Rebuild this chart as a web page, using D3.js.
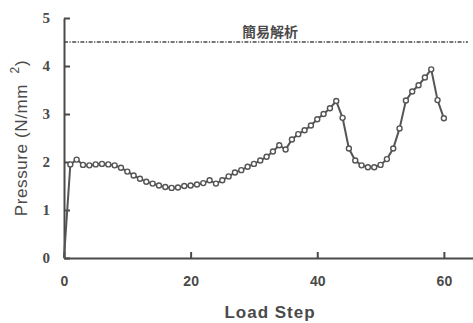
<!DOCTYPE html>
<html>
<head>
<meta charset="utf-8">
<script src="https://cdn.jsdelivr.net/npm/d3@7"></script>
<style>
    body { margin: 0; background: #fff; }
    svg { display: block; }
</style>
</head>
<body>
<div id="chart"></div>
<script>
// load steps 0..60 and measured pressure (N/mm2)
var steps = d3.range(0, 61);
var pressure = [
    0, 1.95, 2.05, 1.94, 1.93, 1.95, 1.96, 1.95, 1.93, 1.88,
    1.80, 1.72, 1.65, 1.59, 1.55, 1.51, 1.48, 1.46, 1.47, 1.50,
    1.51, 1.53, 1.56, 1.62, 1.55, 1.62, 1.70, 1.78, 1.83, 1.90,
    1.96, 2.03, 2.11, 2.22, 2.35, 2.26, 2.47, 2.58, 2.66, 2.76,
    2.89, 3.00, 3.12, 3.27, 2.92, 2.28, 2.03, 1.93, 1.89, 1.89,
    1.94, 2.06, 2.28, 2.70, 3.28, 3.47, 3.60, 3.76, 3.93, 3.29,
    2.91
];
var simpleValue = 4.5;
var simpleLabel = '簡易解析';
var xTicks = [0, 20, 40, 60];
var yTicks = [0, 1, 2, 3, 4, 5];

var width = 473;
var height = 323;
var ink = '#4a4a4a';

var svg = d3.select('#chart')
    .append('svg')
    .attr('width', width)
    .attr('height', height);

var x = d3.scaleLinear().domain([0, 64.6]).range([64, 473]);
var y = d3.scaleLinear().domain([0, 5]).range([258, 18]);

// axes (ticks pointing inward)
var xAxis = svg.append('g')
    .attr('transform', 'translate(0,' + y(0) + ')')
    .call(d3.axisBottom(x).tickValues(xTicks).tickFormat(d3.format('d'))
        .tickSizeInner(-6).tickSizeOuter(0).tickPadding(18));
var yAxis = svg.append('g')
    .attr('transform', 'translate(' + x(0) + ',0)')
    .call(d3.axisLeft(y).tickValues(yTicks).tickFormat(d3.format('d'))
        .tickSizeInner(-6).tickSizeOuter(0).tickPadding(14));

xAxis.selectAll('path, line').attr('stroke', ink).attr('stroke-width', 2);
yAxis.selectAll('path, line').attr('stroke', ink).attr('stroke-width', 2);
xAxis.selectAll('text')
    .attr('fill', ink)
    .style('font-family', 'Liberation Sans, Arial, sans-serif')
    .style('font-size', '14px')
    .style('font-weight', 'bold');
yAxis.selectAll('text')
    .attr('fill', ink)
    .style('font-family', 'Liberation Serif, Times New Roman, serif')
    .style('font-size', '15px')
    .style('font-weight', 'bold');

// simple analysis reference line
svg.append('line')
    .attr('x1', x(0))
    .attr('x2', x(63.8))
    .attr('y1', y(simpleValue))
    .attr('y2', y(simpleValue))
    .attr('stroke', ink)
    .attr('stroke-width', 1.3)
    .attr('stroke-dasharray', '4,1.5,1.2,1.5');

svg.append('text')
    .attr('x', 270)
    .attr('y', 37)
    .attr('text-anchor', 'middle')
    .attr('fill', ink)
    .style('font-family', 'Noto Sans CJK JP, sans-serif')
    .style('font-size', '14px')
    .style('font-weight', 'bold')
    .text(simpleLabel);

// data line and markers
var data = steps.map(function(s, i) { return { s: s, v: pressure[i] }; });

var line = d3.line()
    .x(function(d) { return x(d.s); })
    .y(function(d) { return y(d.v); });

svg.append('path')
    .datum(data)
    .attr('d', line)
    .attr('fill', 'none')
    .attr('stroke', '#555')
    .attr('stroke-width', 2);

svg.append('g')
    .selectAll('circle')
    .data(data.slice(1))
    .enter()
    .append('circle')
    .attr('cx', function(d) { return x(d.s); })
    .attr('cy', function(d) { return y(d.v); })
    .attr('r', 2.5)
    .attr('fill', '#fff')
    .attr('stroke', '#555')
    .attr('stroke-width', 1.4);

// axis titles
svg.append('text')
    .attr('x', 270)
    .attr('y', 318)
    .attr('text-anchor', 'middle')
    .attr('fill', ink)
    .style('font-family', 'Liberation Sans, Arial, sans-serif')
    .style('font-size', '17px')
    .style('font-weight', 'bold')
    .style('letter-spacing', '1px')
    .text('Load Step');

var yTitle = svg.append('text')
    .attr('transform', 'translate(27,138) rotate(-90)')
    .attr('text-anchor', 'middle')
    .attr('fill', ink)
    .style('font-family', 'Liberation Sans, Arial, sans-serif')
    .style('font-size', '17px')
    .style('letter-spacing', '0.6px')
    .style('white-space', 'pre');
yTitle.append('tspan').text('Pressure (N/mm  ');
yTitle.append('tspan').attr('dy', -8).style('font-size', '12px').text('2');
yTitle.append('tspan').attr('dy', 8).text(')');
</script>
</body>
</html>
